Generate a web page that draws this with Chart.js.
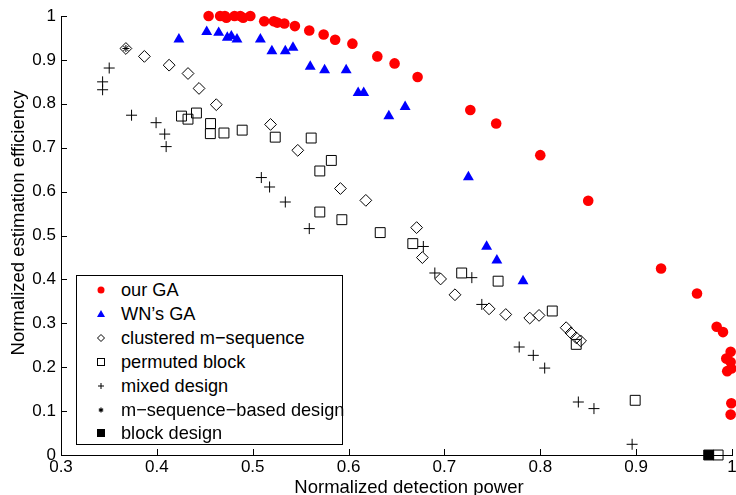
<!DOCTYPE html>
<html><head><meta charset="utf-8">
<script src="https://cdn.jsdelivr.net/npm/chart.js@4/dist/chart.umd.min.js"></script>
<style>
html,body{margin:0;padding:0;background:#fff;}
#wrap{position:relative;width:736px;height:495px;overflow:hidden;}
#c{position:absolute;left:0;top:0;}
#legend{position:absolute;left:76px;top:275px;width:267px;height:170px;box-sizing:border-box;border:1px solid #000;background:#fff;font-family:"Liberation Sans",Arial,sans-serif;font-size:18.2px;color:#000;}
.item{position:absolute;left:0;height:24px;line-height:24px;white-space:nowrap;}
.item svg{position:absolute;left:17px;top:6px;}
.item span{position:absolute;left:44px;top:0;}
.atitle{position:absolute;font-family:"Liberation Sans",Arial,sans-serif;font-size:18.5px;line-height:20px;height:20px;white-space:nowrap;color:#000;text-align:center;width:400px;}
#xtitle{left:209px;top:477px;}
#ytitle{left:-182px;top:213px;transform:rotate(-90deg);transform-origin:200px 10px;}
</style>
</head><body>
<div id="wrap">
<canvas id="c" width="740" height="495"></canvas>
<div id="legend"></div>
<div class="atitle" id="xtitle"></div>
<div class="atitle" id="ytitle"></div>
</div>
<script>
// ---- data ----
const ourGA_x = [0.454,0.466,0.471,0.4725,0.481,0.487,0.490,0.4975,0.512,0.522,0.5256,0.533,0.544,0.559,0.574,0.586,0.604,0.630,0.648,0.672,0.727,0.754,0.800,0.850,0.926,0.9635,0.984,0.9906,0.994,0.9986,0.9986,0.995,0.9993,0.9993,0.9986];
const ourGA_y = [1.0,1.0,1.0,0.996,1.0,1.0,0.996,1.0,0.988,0.988,0.985,0.983,0.977,0.967,0.958,0.946,0.937,0.908,0.892,0.861,0.786,0.755,0.683,0.579,0.425,0.368,0.292,0.280,0.2196,0.235,0.212,0.191,0.197,0.118,0.092];

const wnGA_x = [0.423,0.452,0.4645,0.4735,0.4777,0.4836,0.508,0.520,0.534,0.542,0.560,0.575,0.5975,0.610,0.6158,0.642,0.659,0.725,0.744,0.7547,0.782];
const wnGA_y = [0.947,0.964,0.962,0.951,0.954,0.947,0.947,0.920,0.920,0.928,0.885,0.877,0.877,0.825,0.825,0.772,0.793,0.633,0.475,0.4435,0.396];

const clustered_x = [0.3677,0.387,0.4128,0.4325,0.444,0.462,0.5186,0.547,0.5915,0.618,0.671,0.677,0.696,0.711,0.7466,0.764,0.789,0.7987,0.827,0.832,0.8375,0.842];
const clustered_y = [0.926,0.908,0.888,0.869,0.835,0.798,0.753,0.694,0.607,0.580,0.518,0.4497,0.401,0.365,0.333,0.320,0.312,0.318,0.290,0.278,0.267,0.260];

const permuted_x = [0.4257,0.4325,0.4413,0.456,0.4558,0.470,0.489,0.5235,0.561,0.582,0.570,0.570,0.593,0.633,0.667,0.718,0.756,0.8125,0.8375,0.899,0.9855];
const permuted_y = [0.772,0.765,0.779,0.755,0.732,0.7335,0.740,0.724,0.722,0.671,0.647,0.5535,0.536,0.5066,0.4815,0.4146,0.396,0.328,0.252,0.1246,0.0];

const mixed_x = [0.3434,0.3434,0.3503,0.3736,0.3992,0.4082,0.4097,0.509,0.5176,0.534,0.559,0.678,0.690,0.7286,0.739,0.778,0.7927,0.8046,0.8397,0.856,0.8958];
const mixed_y = [0.850,0.832,0.8815,0.774,0.757,0.731,0.7025,0.632,0.6105,0.5763,0.5157,0.475,0.4146,0.404,0.343,0.246,0.227,0.198,0.1207,0.1057,0.0244];

const mseq_x = [0.3677];
const mseq_y = [0.926];

const block_x = [0.9757];
const block_y = [0.0];

const seriesLabels = ["our GA","WN\u2019s GA","clustered m\u2212sequence","permuted block","mixed design","m\u2212sequence\u2212based design","block design"];
const xTicks = [0.3,0.4,0.5,0.6,0.7,0.8,0.9,1];
const yTicks = [0,0.1,0.2,0.3,0.4,0.5,0.6,0.7,0.8,0.9,1];
const xTitle = "Normalized detection power";
const yTitle = "Normalized estimation efficiency";

function pts(xs, ys){ return xs.map((x,i)=>({x:x, y:ys[i]})); }
function fmt(v){ return String(Number(v.toFixed(2))); }

const FONT = '"Liberation Sans", Arial, sans-serif';

const styles = [
  {pointStyle:'circle',   radius:5.3, bg:'#ff0000', border:'#ff0000', bw:0},
  {pointStyle:'triangle', radius:6.3, bg:'#0000ff', border:'#0000ff', bw:0},
  {pointStyle:'rectRot',  radius:5.9, bg:'rgba(0,0,0,0)', border:'#000', bw:1},
  {pointStyle:'rect',     radius:7,   bg:'rgba(0,0,0,0)', border:'#000', bw:1},
  {pointStyle:'cross',    radius:5.5, bg:'rgba(0,0,0,0)', border:'#000', bw:1},
  {pointStyle:'star',     radius:3.5, bg:'#000', border:'#000', bw:1},
  {pointStyle:'rect',     radius:7,   bg:'#000', border:'#000', bw:1}
];
const seriesData = [pts(ourGA_x,ourGA_y), pts(wnGA_x,wnGA_y), pts(clustered_x,clustered_y), pts(permuted_x,permuted_y), pts(mixed_x,mixed_y), pts(mseq_x,mseq_y), pts(block_x,block_y)];

const datasets = seriesData.map((d,i)=>({
  label: seriesLabels[i],
  data: d,
  pointStyle: styles[i].pointStyle,
  pointRadius: styles[i].radius,
  pointHoverRadius: styles[i].radius,
  pointBackgroundColor: styles[i].bg,
  pointBorderColor: styles[i].border,
  pointBorderWidth: styles[i].bw,
  showLine: false,
  clip: false
}));

const innerTicks = {
  id: 'innerTicks',
  beforeDatasetsDraw(chart){
    const ctx = chart.ctx, xs = chart.scales.x, ys = chart.scales.y, a = chart.chartArea;
    ctx.save();
    ctx.strokeStyle = '#000'; ctx.lineWidth = 1;
    xs.ticks.forEach(t=>{
      const px = Math.round(xs.getPixelForValue(t.value)) + 0.5;
      ctx.beginPath(); ctx.moveTo(px, a.bottom); ctx.lineTo(px, a.bottom - 6); ctx.stroke();
    });
    ys.ticks.forEach(t=>{
      const py = Math.round(ys.getPixelForValue(t.value)) + 0.5;
      ctx.beginPath(); ctx.moveTo(a.left, py); ctx.lineTo(a.left + 6, py); ctx.stroke();
    });
    ctx.restore();
  }
};

const chart = new Chart(document.getElementById('c'), {
  type: 'scatter',
  data: { datasets: datasets },
  options: {
    responsive: false,
    animation: false,
    layout: { padding: { top: 16, right: 7, left: 0, bottom: 0 } },
    plugins: { legend: { display: false }, tooltip: { enabled: false } },
    scales: {
      x: {
        type: 'linear', min: 0.3, max: 1,
        afterBuildTicks(s){ s.ticks = xTicks.map(v=>({value:v})); },
        afterFit(s){ s.height = 40; s.paddingLeft = 0; s.paddingRight = 0; },
        grid: { display: false, drawTicks: false },
        border: { display: true, color: '#000', width: 1 },
        ticks: { color: '#000', padding: 2, maxRotation: 0, autoSkip: false, callback: fmt, font: { family: FONT, size: 17 } },
        title: { display: false, text: xTitle }
      },
      y: {
        type: 'linear', min: 0, max: 1,
        afterBuildTicks(s){ s.ticks = yTicks.map(v=>({value:v})); },
        afterFit(s){ s.width = 61; s.paddingTop = 0; s.paddingBottom = 0; },
        grid: { display: false, drawTicks: false },
        border: { display: true, color: '#000', width: 1 },
        ticks: { color: '#000', padding: 5, autoSkip: false, callback: fmt, font: { family: FONT, size: 17 } },
        title: { display: false, text: yTitle }
      }
    }
  },
  plugins: [innerTicks]
});

document.getElementById('xtitle').textContent = xTitle;
document.getElementById('ytitle').textContent = yTitle;

// ---- legend (HTML, built from the datasets) ----
function markerSVG(i){
  let inner = '';
  switch(i){
    case 0: inner = '<circle cx="7" cy="6" r="3.5" fill="#ff0000"/>'; break;
    case 1: inner = '<polygon points="7,2 11,9 3,9" fill="#0000ff"/>'; break;
    case 2: inner = '<polygon points="7,2.5 10.5,6 7,9.5 3.5,6" fill="none" stroke="#000" stroke-width="1"/>'; break;
    case 3: inner = '<rect x="3.5" y="2.5" width="7" height="7" fill="none" stroke="#000" stroke-width="1"/>'; break;
    case 4: inner = '<path d="M7 3 V9 M4 6 H10" stroke="#000" stroke-width="1"/>'; break;
    case 5: inner = '<path d="M7 3.5 V8.5 M4.8 4.8 L9.2 7.2 M4.8 7.2 L9.2 4.8" stroke="#000" stroke-width="1.2"/>'; break;
    case 6: inner = '<rect x="3" y="2" width="8" height="8" fill="#000"/>'; break;
  }
  return '<svg width="14" height="12" viewBox="0 0 14 12">' + inner + '</svg>';
}
const leg = document.getElementById('legend');
chart.data.datasets.forEach((ds,i)=>{
  const div = document.createElement('div');
  div.className = 'item';
  div.style.top = (2 + i*23.9) + 'px';
  div.innerHTML = markerSVG(i) + '<span>' + ds.label + '</span>';
  leg.appendChild(div);
});
</script>
</body></html>
